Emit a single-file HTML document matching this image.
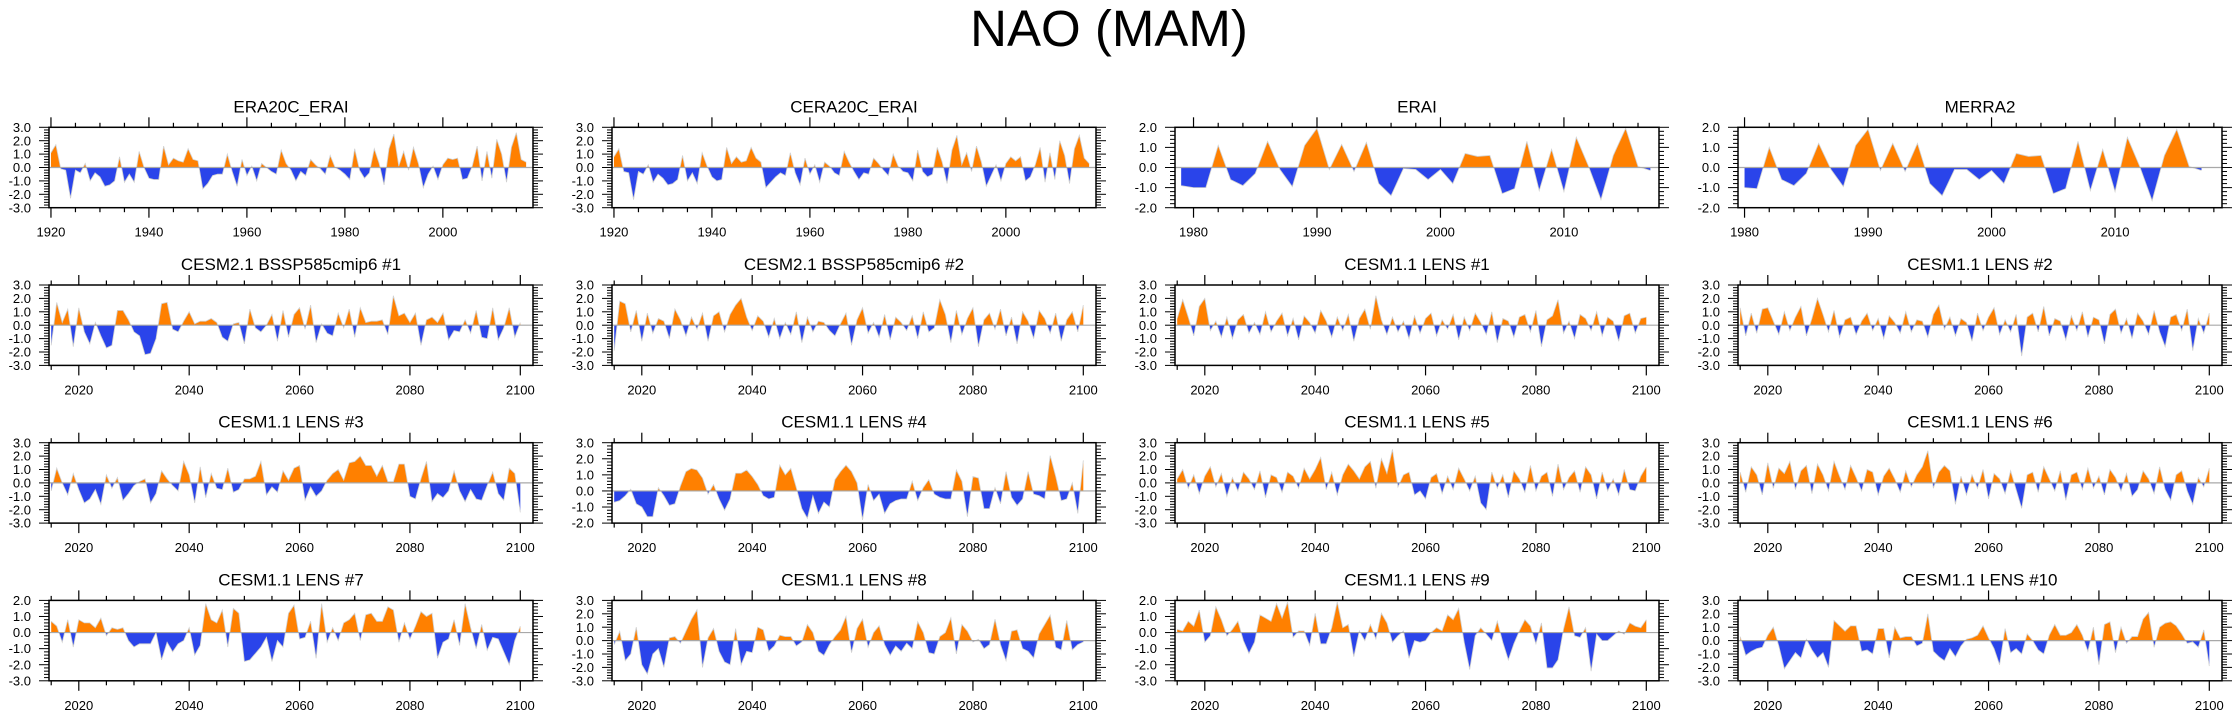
<!DOCTYPE html>
<html><head><meta charset="utf-8"><style>
html,body{margin:0;padding:0;background:#fff;}
svg{display:block;font-family:"Liberation Sans",Arial,sans-serif;}
</style></head><body>
<svg id="fig" width="2238" height="719" viewBox="0 0 2238 719" xmlns="http://www.w3.org/2000/svg">
<text x="1109" y="46" font-size="51" text-anchor="middle">NAO (MAM)</text>
</svg>
<script>
// ---- data (one value per year) ----
const era20cValues = [
1.1,1.7,-0.1,-0.2,-2.3,-0.2,-0.4,0.3,-1.0,-0.4,
-0.7,-1.4,-1.3,-1.0,0.8,-1.1,-0.5,-1.1,1.2,0.0,
-0.8,-0.9,-0.9,1.6,0.2,0.7,0.5,0.4,1.4,0.6,
0.5,-1.6,-1.2,-0.6,-0.5,-0.5,1.0,-0.3,-1.4,0.6,
-0.6,0.1,-1.0,0.3,0.0,-0.3,-0.5,1.3,0.3,-0.2,
-1.0,-0.3,-0.6,0.6,0.2,-0.1,-0.5,0.9,0.0,-0.2,
-0.5,-0.9,1.4,-0.2,-0.8,-0.4,1.4,0.3,-1.3,1.4,
2.5,0.1,1.2,-0.2,1.5,0.3,-1.5,-0.5,0.1,-0.9,
0.2,0.7,0.6,0.7,-0.9,-0.8,0.1,1.6,-1.0,1.2,
-0.8,2.1,1.0,-1.1,1.5,2.6,0.6,0.4];
const cera20cValues = [
0.8,1.4,-0.3,-0.4,-2.4,-0.3,-0.5,0.2,-1.1,-0.5,
-0.8,-1.3,-1.2,-0.9,0.9,-1.0,-0.4,-1.2,1.1,0.1,
-0.7,-1.0,-0.9,1.5,0.3,0.8,0.4,0.5,1.5,0.7,
0.4,-1.5,-1.1,-0.7,-0.4,-0.6,1.1,-0.4,-1.3,0.7,
-0.5,0.2,-1.1,0.4,0.1,-0.4,-0.6,1.2,0.4,-0.3,
-0.9,-0.4,-0.5,0.7,0.3,-0.2,-0.6,1.0,0.1,-0.3,
-0.4,-1.0,1.3,-0.3,-0.7,-0.5,1.5,0.4,-1.2,1.3,
2.4,0.2,1.1,-0.3,1.6,0.4,-1.4,-0.6,0.2,-1.0,
0.3,0.8,0.5,0.8,-1.0,-0.7,0.2,1.5,-1.1,1.1,
-0.9,2.0,0.9,-1.2,1.4,2.4,0.7,0.3];
const eraiValues = [
-0.9,-1.0,-1.0,1.1,-0.6,-0.9,-0.3,1.3,-0.1,-0.95,
1.1,1.95,-0.1,1.15,-0.2,1.25,-0.8,-1.4,-0.05,-0.1,
-0.6,-0.1,-0.8,0.7,0.55,0.6,-1.3,-1.05,1.3,-1.15,
0.9,-1.2,1.5,0.05,-1.6,0.6,1.95,0.05,-0.15];
const merra2Values = [
-1.0,-1.05,1.0,-0.6,-0.9,-0.3,1.2,-0.1,-0.95,1.1,
1.9,-0.15,1.2,-0.2,1.2,-0.8,-1.4,-0.1,-0.1,-0.6,
-0.15,-0.8,0.7,0.55,0.6,-1.3,-1.05,1.3,-1.15,0.9,
-1.2,1.5,0.05,-1.65,0.6,1.9,0.05,-0.15];
const cesm2m1Values = [
-1.5,1.7,0.2,1.2,-1.6,1.3,-0.5,-1.4,0.2,-0.8,
-1.7,-1.5,1.1,1.1,0.4,-0.5,-0.8,-2.2,-2.1,-1.0,
1.6,1.7,-0.3,-0.5,0.3,1.0,0.1,0.3,0.3,0.5,
0.2,-0.9,-1.2,0.1,0.2,-1.4,1.2,-0.2,-0.5,0.0,
0.8,-1.2,1.1,-0.9,0.8,1.3,-0.3,1.5,-1.3,0.1,
-0.6,-0.8,0.9,-0.2,1.2,-0.9,1.3,0.2,0.3,0.3,
0.4,-0.7,2.2,0.7,0.9,0.2,0.9,-1.5,0.4,0.6,
0.2,0.9,-1.1,-0.4,-0.5,0.4,-0.6,1.1,-0.9,-1.0,
1.3,-1.1,-0.2,1.3,-0.9,0.2];
const cesm2m2Values = [
-1.9,1.8,1.6,-0.5,1.1,-1.2,0.9,-0.6,0.5,0.3,
-1.0,1.2,0.4,-0.8,0.6,-0.3,0.9,-1.2,0.7,1.0,
-0.5,0.8,1.5,2.0,0.6,-0.4,0.7,0.3,-0.9,0.5,
-1.0,0.2,-0.7,1.0,-1.3,0.6,-0.5,0.3,0.2,-0.4,
-0.8,0.1,0.9,-1.5,0.4,1.3,-0.6,0.2,-0.9,0.8,
-1.1,0.6,0.2,-0.4,0.7,-1.0,1.0,-0.5,-0.2,1.9,
0.8,-1.3,1.1,-0.7,0.5,1.3,-1.6,0.4,0.9,-0.3,
1.2,-0.8,0.6,-1.4,1.0,0.3,-1.0,1.1,0.5,-0.6,
0.9,-1.2,0.4,1.0,-0.5,1.5];
const lens1Values = [
0.5,1.9,0.6,-0.8,1.4,2.0,-0.4,0.3,-0.9,0.6,
-1.0,0.4,0.8,-0.6,0.2,-0.7,1.0,-0.5,0.3,0.9,
-0.8,0.5,-1.1,0.7,0.2,-0.6,1.1,0.3,-0.9,0.6,
-0.4,0.8,-1.2,0.5,1.2,-0.3,2.2,0.4,-0.7,0.6,
-0.5,0.3,-1.0,0.7,-0.6,0.5,0.9,-0.8,0.4,-0.3,
0.8,-1.1,0.6,-0.4,0.9,0.2,-0.7,1.0,-1.3,0.5,
0.3,-0.9,0.6,0.8,-0.5,1.1,-1.6,0.4,0.7,1.9,
-0.6,0.3,-1.0,0.8,0.5,-0.4,1.0,-0.8,0.6,0.3,
-1.2,0.7,0.9,-0.6,0.5,0.6];
const lens2Values = [
1.3,-0.8,0.9,-0.6,1.2,1.3,0.3,-0.7,1.0,-0.4,
0.6,1.4,-0.8,0.5,2.0,0.8,-0.5,1.1,-0.9,0.4,
0.6,-0.7,0.3,0.9,-0.4,0.5,-1.0,0.7,0.2,-0.6,
1.0,-0.5,0.4,0.3,-0.9,0.8,1.5,-0.3,0.6,-0.8,
0.5,0.2,-1.2,0.9,-0.4,0.6,1.3,-0.7,0.4,-0.5,
0.8,-2.3,0.6,0.9,-0.5,1.4,-0.8,0.5,0.3,-1.1,
0.7,-0.4,1.0,-0.9,0.6,0.4,-1.4,0.8,1.2,-0.6,
0.5,-1.0,0.9,0.3,-0.7,1.1,-0.5,-1.6,0.6,0.8,
-0.4,1.2,-1.9,0.5,-0.6,0.9];
const lens3Values = [
-0.6,1.1,0.0,-0.9,0.7,-0.5,-1.5,-1.2,-0.5,-1.6,
0.6,-0.4,0.4,-1.3,-0.8,-0.2,0.1,0.3,-1.5,-0.8,
0.9,0.3,-0.2,-0.6,1.6,0.6,-1.5,1.2,-1.1,0.7,
-0.4,-0.5,1.1,-0.7,-0.5,0.3,0.3,0.5,1.6,-0.9,
-0.3,-0.7,0.9,0.2,1.1,1.3,-1.3,-0.3,-1.0,-0.6,
0.2,0.7,1.0,0.2,1.5,1.6,2.0,1.3,1.3,0.5,
1.3,0.1,0.1,1.4,1.4,-1.0,-1.2,0.3,1.6,-1.4,
-0.8,-1.1,-0.6,0.9,-0.6,-1.4,-0.5,-1.2,-1.3,-0.2,
0.8,-0.8,-1.3,1.1,0.7,-2.2];
const lens4Values = [
-0.7,-0.6,-0.3,0.1,-0.8,-1.0,-1.6,-1.6,0.2,-0.3,
-0.9,-0.8,0.3,1.2,1.4,1.3,0.8,-0.2,0.4,-0.5,
-1.2,-0.5,1.1,1.1,1.3,0.9,0.4,-0.3,-0.5,-0.4,
1.6,1.0,1.4,0.2,-1.1,-1.7,-0.3,-1.4,-0.7,-1.0,
0.7,1.2,1.6,1.2,0.5,-1.8,0.4,-0.6,-0.2,-1.4,
-0.8,-0.6,-0.5,-0.5,0.6,-0.6,0.2,0.7,-0.2,-0.4,
-0.5,-0.5,1.3,0.6,-1.6,0.9,0.8,-1.1,-1.1,0.2,
-0.8,1.2,-0.4,-0.9,-0.5,1.2,-0.2,-0.3,-0.5,2.2,
0.9,-0.6,-0.5,0.5,-1.4,1.9];
const lens5Values = [
0.3,1.0,-0.4,0.6,-0.8,0.5,1.2,-0.3,0.7,-1.0,
0.4,-0.6,0.8,0.3,-0.5,0.9,-1.1,0.6,0.4,-0.7,
0.8,0.5,-0.4,1.1,0.3,1.0,1.9,-0.5,0.8,-0.9,
0.6,1.4,0.9,0.3,1.2,1.6,-0.4,1.8,0.7,2.5,
-0.3,0.6,0.8,-0.9,-0.6,-1.2,0.4,0.7,-0.8,0.5,
-0.5,1.1,0.3,-0.6,0.5,-1.5,-2.0,0.8,-0.4,0.6,
-1.1,0.9,0.3,-0.7,1.3,-0.6,0.5,0.8,-1.0,1.4,
-0.5,0.4,0.9,-0.7,1.2,0.6,-1.2,0.8,-0.6,0.3,
-0.9,1.0,-0.5,-0.6,0.5,1.2];
const lens6Values = [
0.8,-0.7,1.2,0.6,-0.9,1.5,-0.4,1.1,0.7,1.6,
-0.5,0.9,1.3,-0.8,1.4,0.6,-0.6,1.6,0.5,-0.5,
1.3,0.4,-0.6,1.0,0.8,-0.9,0.5,1.1,0.3,-0.7,
0.9,-0.3,0.6,1.2,2.4,-0.4,0.8,1.3,0.9,-1.6,
0.5,-0.9,0.6,-0.4,1.0,-1.2,0.7,0.3,-0.8,0.9,
-0.5,-1.9,0.6,0.8,-0.7,1.2,0.3,-0.6,0.9,-1.3,
0.6,0.8,-0.5,1.1,-0.4,0.5,-0.9,1.0,0.4,-0.6,
0.7,-1.0,-0.5,0.9,0.3,-0.8,1.2,-0.5,-1.3,0.6,
0.9,-0.6,-1.6,0.4,-0.3,1.1];
const lens7Values = [
0.7,0.4,-0.6,0.8,-0.9,0.8,0.6,0.6,0.3,0.9,
-0.2,0.3,0.2,0.3,-0.5,-0.9,-0.7,-0.7,-0.7,0.0,
-1.7,-0.6,-1.2,-0.7,-0.5,0.3,-1.4,-0.8,1.8,0.8,
0.6,1.4,-0.9,1.5,1.2,-1.8,-1.7,-1.3,-0.9,-0.3,
-1.8,-0.5,-0.9,1.2,1.7,-0.4,-0.3,0.7,-1.6,1.8,
-0.6,0.3,-0.5,0.6,0.8,1.2,-0.5,1.1,1.2,0.7,
0.7,1.6,1.4,-0.6,0.6,-0.4,0.4,1.3,1.0,1.2,
-1.6,-0.6,-0.4,0.8,-0.8,1.8,0.3,-1.0,0.5,-1.1,
-0.3,-0.4,-1.2,-2.0,-0.5,0.4];
const lens8Values = [
-0.3,0.7,-1.5,-1.0,1.0,-1.8,-2.5,-1.0,-0.6,-2.0,
0.2,0.3,-0.2,0.7,1.6,2.3,-2.0,0.2,0.9,-0.8,
-1.6,-1.8,0.9,-1.8,-0.8,-0.9,1.0,0.8,-0.8,-0.4,
0.4,0.3,0.3,-0.4,-0.1,1.2,0.6,-0.8,-1.1,-0.3,
0.3,0.8,1.8,-0.9,0.9,1.6,-0.5,0.6,1.1,-0.3,
-1.1,-0.4,-0.8,-0.2,-0.6,1.4,0.6,-0.9,-1.0,0.3,
0.6,1.7,-1.0,1.2,0.7,-0.1,0.1,-0.6,-0.3,1.6,
-0.3,-1.5,0.7,0.8,-0.6,-0.8,-1.3,0.5,1.2,1.9,
-0.5,-0.7,1.5,-0.7,-0.3,-0.1];
const lens9Values = [
0.2,0.1,0.7,0.4,1.4,-0.6,-0.2,1.6,0.8,-0.2,
0.2,0.7,-0.5,-1.3,-0.6,1.1,0.9,0.7,1.8,0.9,
1.9,-0.3,0.1,0.1,-0.8,1.2,-0.7,-0.7,0.3,1.9,
0.3,0.5,-1.5,0.1,-0.5,0.5,-0.4,1.2,0.6,-0.6,
-0.2,0.1,-1.6,-0.5,-0.6,-0.5,0.0,0.3,0.1,1.1,
0.8,1.5,-0.6,-2.3,-0.2,0.3,-0.1,-0.5,0.7,-0.6,
-1.7,-0.7,0.1,0.8,0.4,-0.7,0.6,-2.2,-2.2,-1.7,
0.2,1.6,-0.2,-0.3,0.3,-2.4,-0.1,-0.5,-0.5,-0.2,
0.1,-0.1,0.6,0.4,0.3,0.8];
const lens10Values = [
0.3,-1.1,-0.8,-0.6,-0.5,0.4,1.0,-0.4,-2.1,-1.5,
-0.9,-1.3,0.1,-0.7,-1.3,-0.9,-2.0,1.5,1.1,0.7,
1.1,1.1,-0.8,-0.7,-1.0,0.9,0.9,-1.3,1.0,0.2,
0.3,0.3,-0.4,-0.2,2.0,-0.8,-1.2,-1.5,-0.6,-1.2,
-0.4,0.1,0.2,0.4,1.1,0.2,-0.6,-1.8,0.9,-0.9,
-0.6,-1.0,0.5,0.0,-0.7,-1.0,0.4,1.2,0.4,0.4,
0.6,1.2,0.4,-0.8,1.0,-1.8,1.2,1.4,-0.9,1.0,
-0.2,0.3,0.3,1.6,2.1,-0.5,1.0,1.3,1.4,1.1,
0.5,-0.2,-0.1,-0.5,0.8,-1.9];

// ---- panel configuration ----
const panelTitles = ["ERA20C_ERAI","CERA20C_ERAI","ERAI","MERRA2",
 "CESM2.1 BSSP585cmip6 #1","CESM2.1 BSSP585cmip6 #2","CESM1.1 LENS #1","CESM1.1 LENS #2",
 "CESM1.1 LENS #3","CESM1.1 LENS #4","CESM1.1 LENS #5","CESM1.1 LENS #6",
 "CESM1.1 LENS #7","CESM1.1 LENS #8","CESM1.1 LENS #9","CESM1.1 LENS #10"];
const panelSeries = [era20cValues,cera20cValues,eraiValues,merra2Values,
 cesm2m1Values,cesm2m2Values,lens1Values,lens2Values,
 lens3Values,lens4Values,lens5Values,lens6Values,
 lens7Values,lens8Values,lens9Values,lens10Values];
const panelStartYear = [1920,1920,1979,1980, 2015,2015,2015,2015, 2015,2015,2015,2015, 2015,2015,2015,2015];
const panelYMax = [3,3,2,2, 3,3,3,3, 3,3,3,3, 2,3,2,3];
const panelYMin = [-3,-3,-2,-2, -3,-3,-3,-3, -3,-2,-3,-3, -3,-3,-3,-3];

const NS="http://www.w3.org/2000/svg";
const svg=document.getElementById('fig');
function mk(tag,attrs,parent){const e=document.createElementNS(NS,tag);for(const k in attrs)e.setAttribute(k,attrs[k]);(parent||svg).appendChild(e);return e;}

const W=484,H=80.4;
panelSeries.forEach((vals,p)=>{
  const col=p%4,row=Math.floor(p/4);
  const X0=49+col*563, Y0=127.3+row*157.7;
  let xr,major,minor,labels;
  if(p<2){xr=[1919.6,2018.4];major=20;minor=5;labels=[1920,1940,1960,1980,2000];}
  else if(p===2){xr=[1978.5,2017.7];major=10;minor=2;labels=[1980,1990,2000,2010];}
  else if(p===3){xr=[1979.47,2018.66];major=10;minor=2;labels=[1980,1990,2000,2010];}
  else {xr=[2014.6,2102.3];major=20;minor=5;labels=[2020,2040,2060,2080,2100];}
  const yMax=panelYMax[p],yMin=panelYMin[p];
  const xs=y=>X0+(y-xr[0])/(xr[1]-xr[0])*W;
  const ys=v=>Y0+(yMax-v)/(yMax-yMin)*H;
  const g=mk('g',{});
  
  
  const t=mk('text',{x:X0+W/2,y:Y0-15,'font-size':17,'text-anchor':'middle'},g);
  t.textContent=panelTitles[p];
  
  
  const cid='clip'+p;
  const defs=mk('defs',{},g);
  const cu=mk('clipPath',{id:cid+'u'},defs);mk('rect',{x:X0,y:Y0,width:W,height:ys(0)-Y0},cu);
  const cd=mk('clipPath',{id:cid+'d'},defs);mk('rect',{x:X0,y:ys(0),width:W,height:Y0+H-ys(0)},cd);
  const y0=panelStartYear[p];
  let pts=vals.map((v,i)=>xs(y0+i).toFixed(2)+','+ys(v).toFixed(2));
  const area='M'+xs(y0).toFixed(2)+','+ys(0)+' L'+pts.join(' L')+' L'+xs(y0+vals.length-1).toFixed(2)+','+ys(0)+'Z';
  const pu=mk('path',{d:area,fill:'#ff8000','clip-path':'url(#'+cid+'u)'},g);
  
  
  const pd=mk('path',{d:area,fill:'#2a44ea','clip-path':'url(#'+cid+'d)'},g);
  
  
  mk('polyline',{points:pts.join(' '),fill:'none',stroke:'#d0d0d0','stroke-width':0.8},g);
  const zl=mk('line',{x1:X0,x2:X0+W,y1:ys(0),y2:ys(0),stroke:'#a8a8a8','stroke-width':1.2},g);
  
  
  for(let k=Math.round(yMin*5);k<=Math.round(yMax*5);k++){
    const v=k/5,yy=ys(v),isM=(k%5===0),L=isM?10:5;
    mk('line',{x1:X0-L,x2:X0,y1:yy,y2:yy,stroke:'#000','stroke-width':1},g);
    mk('line',{x1:X0+W,x2:X0+W+L,y1:yy,y2:yy,stroke:'#000','stroke-width':1},g);
    if(isM){const tl=mk('text',{x:X0-18,y:yy+4.6,'font-size':13,'text-anchor':'end'},g);tl.textContent=v.toFixed(1);
      
      }
  }
  for(let yr=Math.ceil(xr[0]/minor)*minor;yr<=xr[1];yr+=minor){
    const xx=xs(yr),isM=(yr%major===0),L=isM?10:4.5;
    mk('line',{x1:xx,x2:xx,y1:Y0-L,y2:Y0,stroke:'#000','stroke-width':1.2},g);
    mk('line',{x1:xx,x2:xx,y1:Y0+H,y2:Y0+H+L,stroke:'#000','stroke-width':1.2},g);
  }
  labels.forEach(yr=>{const tl=mk('text',{x:xs(yr),y:Y0+H+29,'font-size':13,'text-anchor':'middle'},g);tl.textContent=yr;
    
    });
  const fr=mk('rect',{x:X0,y:Y0,width:W,height:H,fill:'none',stroke:'#000','stroke-width':1.5},g);
  
  
});
</script>
</body></html>
